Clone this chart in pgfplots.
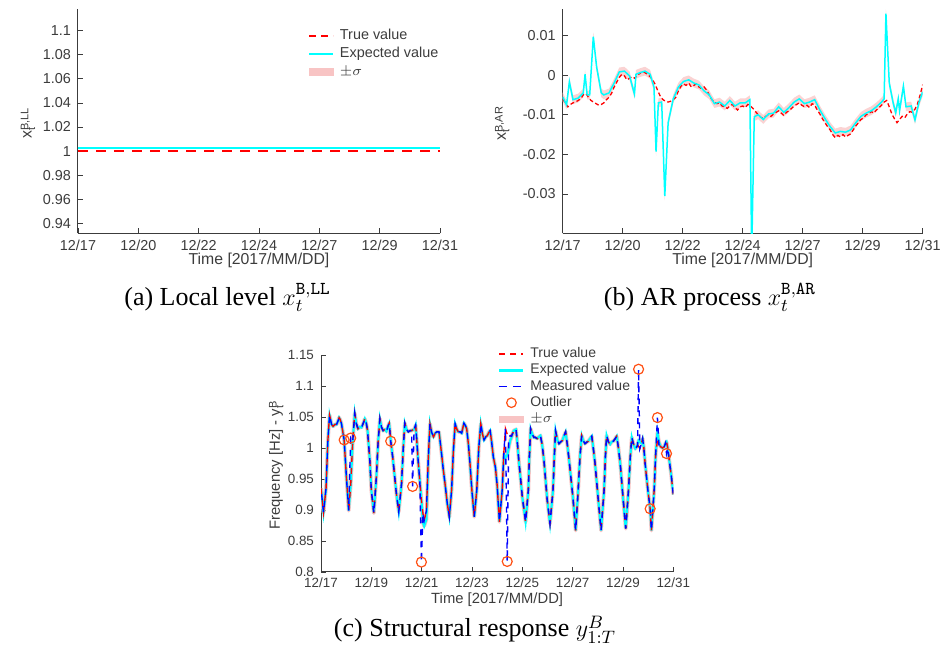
\documentclass[border=0pt]{standalone}
\usepackage{pgfplots}
\pgfplotsset{compat=1.18}
\usepackage{pgfplotstable}
\usepackage{fontspec}
\setmainfont{Liberation Sans}
\newfontfamily\capfont{Liberation Serif}

\definecolor{axgray}{RGB}{60,60,60}
\definecolor{cyanE}{RGB}{0,255,255}
\definecolor{bandpink}{RGB}{248,196,196}
\definecolor{outl}{RGB}{255,80,20}
\definecolor{redT}{RGB}{255,0,0}

% ---------- data ----------
\pgfplotstableread{
d t
0.0 -0.0060
0.1 -0.0070
0.2 -0.0080
0.3 -0.0074
0.4 -0.0070
0.5 -0.0068
0.6 -0.0064
0.7 -0.0060
0.8 -0.0050
0.9 -0.0046
1.0 -0.0056
1.1 -0.0064
1.2 -0.0068
1.3 -0.0072
1.4 -0.0076
1.5 -0.0074
1.6 -0.0070
1.7 -0.0062
1.8 -0.0056
1.9 -0.0046
2.0 -0.0030
2.1 -0.0018
2.2 -0.0006
2.3 0.0002
2.4 -0.0002
2.5 -0.0012
2.6 -0.0008
2.7 -0.0004
2.8 -0.0008
2.9 0.0000
3.0 0.0004
3.1 0.0010
3.2 0.0006
3.3 0.0002
3.4 -0.0004
3.5 -0.0012
3.6 -0.0024
3.7 -0.0040
3.8 -0.0054
3.9 -0.0062
4.0 -0.0066
4.1 -0.0068
4.2 -0.0066
4.3 -0.0062
4.4 -0.0056
4.5 -0.0040
4.6 -0.0028
4.7 -0.0022
4.8 -0.0026
4.9 -0.0020
5.0 -0.0030
5.1 -0.0026
5.2 -0.0022
5.3 -0.0030
5.4 -0.0034
5.5 -0.0030
5.6 -0.0038
5.7 -0.0050
5.8 -0.0062
5.9 -0.0068
6.0 -0.0072
6.1 -0.0070
6.2 -0.0078
6.3 -0.0080
6.4 -0.0084
6.5 -0.0078
6.6 -0.0074
6.7 -0.0082
6.8 -0.0088
6.9 -0.0080
7.0 -0.0078
7.1 -0.0082
7.2 -0.0074
7.3 -0.0078
7.4 -0.0084
7.5 -0.0092
7.6 -0.0100
7.7 -0.0106
7.8 -0.0110
7.9 -0.0104
8.0 -0.0100
8.1 -0.0104
8.2 -0.0098
8.3 -0.0094
8.4 -0.0090
8.5 -0.0096
8.6 -0.0102
8.7 -0.0094
8.8 -0.0090
8.9 -0.0084
9.0 -0.0078
9.1 -0.0074
9.2 -0.0070
9.3 -0.0076
9.4 -0.0080
9.5 -0.0076
9.6 -0.0082
9.7 -0.0072
9.8 -0.0076
9.9 -0.0088
10.0 -0.0098
10.1 -0.0110
10.2 -0.0120
10.3 -0.0130
10.4 -0.0138
10.5 -0.0150
10.6 -0.0158
10.7 -0.0152
10.8 -0.0156
10.9 -0.0150
11.0 -0.0156
11.1 -0.0152
11.2 -0.0148
11.3 -0.0138
11.4 -0.0128
11.5 -0.0120
11.6 -0.0112
11.7 -0.0108
11.8 -0.0100
11.9 -0.0098
12.0 -0.0092
12.1 -0.0096
12.2 -0.0088
12.3 -0.0082
12.4 -0.0076
12.5 -0.0068
12.6 -0.0064
12.7 -0.0080
12.8 -0.0098
12.9 -0.0110
13.0 -0.0120
13.1 -0.0112
13.2 -0.0104
13.3 -0.0108
13.4 -0.0098
13.5 -0.0092
13.6 -0.0094
13.7 -0.0086
13.8 -0.0072
13.9 -0.0050
14.0 -0.0024
}\artrue

\pgfplotstableread{
d e
0.00 -0.0055
0.15 -0.0075
0.26 -0.0017
0.40 -0.0062
0.60 -0.0058
0.80 -0.0045
0.87 0.0002
0.95 -0.0050
1.05 -0.0050
1.19 0.0097
1.32 0.0020
1.50 -0.0045
1.60 -0.0050
1.80 -0.0045
2.00 -0.0020
2.20 0.0008
2.40 0.0010
2.60 -0.0002
2.79 -0.0048
2.85 0.0002
3.00 0.0006
3.20 0.0010
3.40 0.0002
3.55 -0.0030
3.63 -0.0193
3.72 -0.0070
3.85 -0.0068
3.97 -0.0305
4.10 -0.0120
4.30 -0.0060
4.50 -0.0030
4.70 -0.0016
4.90 -0.0012
5.10 -0.0020
5.30 -0.0025
5.50 -0.0040
5.70 -0.0050
5.90 -0.0072
6.10 -0.0068
6.30 -0.0078
6.50 -0.0064
6.70 -0.0078
6.90 -0.0070
7.10 -0.0070
7.28 -0.0062
7.35 -0.0450
7.45 -0.0105
7.60 -0.0100
7.80 -0.0112
8.00 -0.0098
8.20 -0.0096
8.40 -0.0080
8.60 -0.0094
8.80 -0.0082
9.00 -0.0068
9.20 -0.0060
9.40 -0.0072
9.60 -0.0068
9.80 -0.0062
10.00 -0.0088
10.20 -0.0110
10.40 -0.0130
10.60 -0.0146
10.80 -0.0142
11.00 -0.0144
11.20 -0.0138
11.40 -0.0120
11.60 -0.0104
11.80 -0.0096
12.00 -0.0090
12.20 -0.0080
12.40 -0.0068
12.50 -0.0060
12.57 0.0155
12.70 -0.0020
12.85 -0.0070
12.95 -0.0095
13.05 -0.0060
13.10 -0.0090
13.25 -0.0028
13.35 -0.0080
13.55 -0.0078
13.70 -0.0113
13.85 -0.0070
14.00 -0.0042
}\arexp

\pgfplotstableread{
d t e m
0.00 0.935 0.935 0.935
0.10 0.896 0.896 0.896
0.20 0.935 0.935 0.935
0.27 1.010 1.010 1.010
0.34 1.053 1.053 1.053
0.42 1.038 1.038 1.038
0.48 1.035 1.035 1.035
0.55 1.038 1.038 1.038
0.62 1.038 1.038 1.038
0.68 1.044 1.044 1.044
0.72 1.049 1.049 1.049
0.76 1.046 1.046 1.046
0.81 1.040 1.040 1.040
0.86 1.028 1.028 1.028
0.92 1.012 1.012 1.013
1.01 0.953 0.953 0.953
1.10 0.899 0.899 0.899
1.18 0.940 0.940 1.016
1.26 1.010 1.010 1.010
1.34 1.056 1.056 1.056
1.40 1.040 1.040 1.040
1.47 1.031 1.031 1.031
1.54 1.034 1.034 1.034
1.61 1.033 1.033 1.033
1.68 1.040 1.040 1.040
1.74 1.047 1.047 1.047
1.80 1.040 1.040 1.040
1.85 1.028 1.028 1.028
1.94 0.980 0.980 0.980
2.00 0.932 0.932 0.932
2.10 0.895 0.895 0.895
2.20 0.953 0.953 0.953
2.27 1.010 1.010 1.010
2.34 1.047 1.047 1.047
2.40 1.034 1.034 1.034
2.47 1.028 1.028 1.028
2.54 1.030 1.030 1.030
2.60 1.027 1.027 1.027
2.66 1.035 1.035 1.035
2.71 1.040 1.040 1.040
2.77 1.012 1.012 1.011
2.85 0.985 0.985 0.985
2.93 0.953 0.953 0.953
3.00 0.925 0.925 0.925
3.09 0.897 0.897 0.897
3.20 0.942 0.942 0.942
3.27 1.000 1.000 1.000
3.33 1.040 1.040 1.040
3.40 1.030 1.030 1.030
3.47 1.026 1.026 1.026
3.54 1.028 1.028 1.028
3.60 1.028 1.028 1.028
3.64 1.029 1.029 0.938
3.70 1.030 1.030 1.030
3.76 1.037 1.037 1.037
3.81 1.010 1.010 1.010
3.86 0.980 0.980 0.980
3.93 0.945 0.945 0.945
3.99 0.916 0.916 0.816
4.05 0.895 0.880 0.895
4.10 0.883 0.874 0.883
4.19 0.899 0.885 0.899
4.26 0.980 0.975 0.980
4.33 1.039 1.039 1.039
4.40 1.025 1.025 1.025
4.47 1.018 1.018 1.018
4.54 1.024 1.024 1.024
4.60 1.026 1.026 1.026
4.69 1.026 1.026 1.026
4.79 0.991 0.991 0.991
4.86 0.965 0.965 0.965
4.93 0.942 0.942 0.942
5.02 0.910 0.910 0.910
5.10 0.889 0.889 0.889
5.19 0.932 0.932 0.932
5.26 0.995 0.995 0.995
5.33 1.039 1.039 1.039
5.40 1.030 1.030 1.030
5.46 1.026 1.026 1.026
5.53 1.026 1.026 1.026
5.59 1.024 1.024 1.024
5.68 1.040 1.040 1.040
5.74 1.036 1.036 1.036
5.79 1.031 1.031 1.031
5.86 1.005 1.005 1.005
5.92 0.975 0.975 0.975
6.00 0.930 0.930 0.930
6.09 0.889 0.889 0.889
6.19 0.932 0.932 0.932
6.27 1.000 1.000 1.000
6.35 1.039 1.039 1.039
6.42 1.022 1.022 1.022
6.48 1.013 1.013 1.013
6.55 1.018 1.018 1.018
6.61 1.020 1.020 1.020
6.67 1.025 1.025 1.025
6.72 1.028 1.028 1.028
6.78 1.010 1.010 1.010
6.85 0.985 0.985 0.985
6.93 0.969 0.969 0.969
7.00 0.940 0.940 0.940
7.09 0.881 0.881 0.881
7.20 0.932 0.932 0.932
7.27 0.995 0.990 0.995
7.33 1.031 0.985 1.031
7.40 1.022 0.988 0.817
7.46 1.017 1.000 1.017
7.52 1.020 1.012 1.020
7.57 1.019 1.017 1.019
7.62 1.024 1.024 1.024
7.66 1.028 1.028 1.028
7.75 1.030 1.030 1.030
7.80 1.010 1.010 1.010
7.86 0.980 0.980 0.980
8.00 0.921 0.921 0.921
8.13 0.881 0.881 0.881
8.24 0.932 0.932 0.932
8.28 0.985 0.985 0.985
8.33 1.031 1.031 1.031
8.40 1.022 1.022 1.022
8.46 1.017 1.017 1.017
8.52 1.017 1.017 1.017
8.59 1.015 1.015 1.015
8.66 1.018 1.018 1.018
8.72 1.020 1.020 1.020
8.79 1.005 1.005 1.005
8.86 0.980 0.980 0.980
8.99 0.916 0.916 0.916
9.10 0.878 0.878 0.878
9.22 0.932 0.932 0.932
9.27 0.985 0.985 0.985
9.32 1.028 1.028 1.028
9.40 1.012 1.012 1.012
9.46 1.007 1.007 1.007
9.53 1.010 1.010 1.010
9.59 1.012 1.012 1.012
9.66 1.020 1.020 1.020
9.72 1.026 1.026 1.026
9.79 1.005 1.005 1.005
9.86 0.980 0.980 0.980
10.01 0.921 0.921 0.921
10.12 0.867 0.867 0.867
10.22 0.932 0.932 0.932
10.29 0.985 0.985 0.985
10.36 1.020 1.020 1.020
10.42 1.012 1.012 1.012
10.49 1.007 1.007 1.007
10.55 1.009 1.009 1.009
10.62 1.011 1.011 1.011
10.69 1.015 1.015 1.015
10.76 1.019 1.019 1.019
10.82 1.000 1.000 1.000
10.89 0.975 0.975 0.975
11.02 0.916 0.916 0.916
11.13 0.867 0.867 0.867
11.25 0.932 0.932 0.932
11.30 0.985 0.985 0.985
11.35 1.020 1.020 1.020
11.42 1.010 1.010 1.010
11.49 1.006 1.006 1.006
11.55 1.010 1.010 1.010
11.62 1.011 1.011 1.011
11.69 1.015 1.015 1.015
11.75 1.019 1.019 1.019
11.82 1.000 1.000 1.000
11.89 0.975 0.975 0.975
12.01 0.916 0.916 0.916
12.11 0.870 0.870 0.870
12.22 0.932 0.932 0.932
12.29 0.985 0.985 0.985
12.35 1.017 1.017 1.017
12.42 1.006 1.006 1.006
12.49 0.999 0.999 0.999
12.55 1.002 1.002 1.002
12.58 1.004 1.006 1.004
12.62 1.003 1.012 1.127
12.67 0.999 1.010 0.999
12.72 1.005 1.008 1.005
12.78 1.015 1.015 1.015
12.83 1.000 1.000 1.000
12.88 0.975 0.975 0.975
12.99 0.932 0.932 0.932
13.08 0.902 0.902 0.902
13.13 0.867 0.867 0.867
13.24 0.932 0.932 0.932
13.30 0.990 0.990 0.990
13.37 1.012 1.025 1.049
13.43 1.005 1.010 1.005
13.50 1.002 1.002 1.002
13.57 1.000 1.000 1.000
13.64 1.002 1.002 1.002
13.69 1.008 1.008 1.008
13.73 1.010 1.010 0.991
13.78 1.000 1.000 1.000
13.84 0.980 0.980 0.980
13.92 0.955 0.955 0.955
14.00 0.925 0.925 0.925
}\resp

\pgfplotstableread{
d v
0.92 1.013
1.18 1.016
2.77 1.011
3.64 0.938
3.99 0.816
7.40 0.817
12.62 1.127
13.08 0.902
13.37 1.049
13.73 0.991
}\outliers

\pgfplotsset{
  mystyle/.style={
    scale only axis,
    axis x line*=bottom, axis y line*=left,
    axis line style={axgray, line width=0.5pt},
    every tick/.style={axgray, line width=0.4pt},
    tick align=inside,
    major tick length=2.5pt,
    ticklabel style={text=axgray},
    label style={text=axgray},
    scaled ticks=false,
    yticklabel style={/pgf/number format/fixed, /pgf/number format/precision=3},
    /pgf/number format/assume math mode=true,
  },
}

\newcommand{\fsTA}{\fontsize{7.2}{8.6}\selectfont}
\newcommand{\fsLA}{\fontsize{7.9}{9.5}\selectfont}
\newcommand{\fsGA}{\fontsize{7.2}{8.6}\selectfont}
\newcommand{\fsTB}{\fontsize{6.7}{8}\selectfont}
\newcommand{\fsLB}{\fontsize{7.4}{8.9}\selectfont}
\newcommand{\fsGB}{\fontsize{7.0}{8.4}\selectfont}
\newcommand{\scr}{\fontsize{5.5}{6}\selectfont}
\newcommand{\mylab}[3]{#1\rlap{\lower1.8pt\hbox{\scr #2}}\raise1.6pt\hbox{\scr #3}}

\begin{document}
\begin{tikzpicture}
\path[use as bounding box] (0pt,0pt) rectangle (471.5pt,328pt);

% ---------------- (a) local level ----------------
\begin{axis}[mystyle,
  at={(39pt,211.35pt)}, anchor=south west,
  width=181pt, height=112pt,
  xmin=0, xmax=14, ymin=0.9317, ymax=1.1178,
  xtick={0,2.33333,4.66667,7,9.33333,11.66667,14},
  xticklabels={12/17,12/20,12/22,12/24,12/27,12/29,12/31},
  ytick={0.94,0.96,0.98,1,1.02,1.04,1.06,1.08,1.1},
  tick label style={font=\fsTA},
  label style={font=\fsLA},
  xlabel={Time [2017/MM/DD]},
  xlabel style={at={(axis description cs:0.5,-0.121)}, anchor=center},
  ylabel={\mylab{x}{t}{B,LL}},
  ylabel style={at={(axis description cs:-0.138,0.49)}, anchor=center},
  legend style={draw=none, fill=none, text=axgray, font=\fsGA, inner sep=0pt,
    at={(axis description cs:0.635,0.918)}, anchor=north west,
    row sep=1.2pt, column sep=2.5pt,
    nodes={text height=5.3pt, text depth=1.5pt, inner sep=0.5pt},
    cells={anchor=west}},
]
\addlegendimage{legend image code/.code={\draw[redT, line width=0.85pt, dash pattern=on 3.5pt off 2.5pt] (0pt,0pt) -- (12pt,0pt);}}
\addlegendentry{True value}
\addlegendimage{legend image code/.code={\draw[cyanE, line width=0.7pt] (0pt,0pt) -- (12pt,0pt);}}
\addlegendentry{Expected value}
\addlegendimage{legend image code/.code={\fill[bandpink] (0pt,-1.6pt) rectangle (12pt,1.6pt);}}
\addlegendentry{$\pm\sigma$}
\addplot[bandpink, line width=1.4pt, forget plot] coordinates {(0,1.0025) (14,1.0025)};
\addplot[cyanE, line width=1pt, forget plot] coordinates {(0,1.0025) (14,1.0025)};
\addplot[redT, line width=0.8pt, dash pattern=on 5pt off 4pt, forget plot] coordinates {(0,1.0) (14,1.0)};
\end{axis}

% ---------------- (b) AR process ----------------
\begin{axis}[mystyle,
  at={(281.35pt,211.35pt)}, anchor=south west,
  width=180pt, height=112pt,
  xmin=0, xmax=14, ymin=-0.0399, ymax=0.0166,
  xtick={0,2.33333,4.66667,7,9.33333,11.66667,14},
  xticklabels={12/17,12/20,12/22,12/24,12/27,12/29,12/31},
  ytick={-0.03,-0.02,-0.01,0,0.01},
  tick label style={font=\fsTA},
  label style={font=\fsLA},
  xlabel={Time [2017/MM/DD]},
  xlabel style={at={(axis description cs:0.5,-0.121)}, anchor=center},
  ylabel={\mylab{x}{t}{B,AR}},
  ylabel style={at={(axis description cs:-0.168,0.49)}, anchor=center},
]
\addplot[draw=none, stack plots=y, forget plot] table[x=d, y expr=\thisrow{e}-0.0011] {\arexp};
\addplot[draw=none, fill=bandpink!75!white, stack plots=y, forget plot] table[x=d, y expr=0.0022] {\arexp} \closedcycle;
\addplot[redT, line width=0.65pt, dash pattern=on 2pt off 1.3pt, forget plot] table[x=d, y=t] {\artrue};
\addplot[cyanE, line width=0.75pt, forget plot] table[x=d, y=e] {\arexp};
\end{axis}

% ---------------- (c) structural response ----------------
\begin{axis}[mystyle,
  at={(160.5pt,42pt)}, anchor=south west,
  width=176.15pt, height=108.5pt,
  xmin=0, xmax=14, ymin=0.8, ymax=1.15,
  xtick={0,2,4,6,8,10,12,14},
  xticklabels={12/17,12/19,12/21,12/23,12/25,12/27,12/29,12/31},
  ytick={0.8,0.85,0.9,0.95,1,1.05,1.1,1.15},
  tick label style={font=\fsTB},
  xticklabel style={yshift=0.5pt},
  label style={font=\fsLB},
  xlabel={Time [2017/MM/DD]},
  xlabel style={at={(axis description cs:0.5,-0.126)}, anchor=center},
  ylabel={Frequency [Hz] - \mylab{y}{t}{B}},
  ylabel style={at={(axis description cs:-0.127,0.49)}, anchor=center},
  legend style={draw=none, fill=none, text=axgray, font=\fsGB, inner sep=0pt,
    at={(axis description cs:0.502,1.040)}, anchor=north west,
    row sep=0.7pt, column sep=2.5pt,
    nodes={text height=5.1pt, text depth=1.5pt, inner sep=0.4pt},
    cells={anchor=west}},
]
\addlegendimage{legend image code/.code={\draw[redT, line width=0.7pt, dash pattern=on 3pt off 2.5pt] (0pt,0pt) -- (12pt,0pt);}}
\addlegendentry{True value}
\addlegendimage{legend image code/.code={\draw[cyanE, line width=1.2pt] (0pt,0pt) -- (12pt,0pt);}}
\addlegendentry{Expected value}
\addlegendimage{legend image code/.code={\draw[blue, line width=0.7pt, dash pattern=on 4pt off 3pt] (0pt,0pt) -- (12pt,0pt);}}
\addlegendentry{Measured value}
\addlegendimage{legend image code/.code={\draw[outl, line width=0.6pt] (6pt,0pt) circle (2.4pt);}}
\addlegendentry{Outlier}
\addlegendimage{legend image code/.code={\fill[bandpink] (0pt,-1.5pt) rectangle (12pt,1.5pt);}}
\addlegendentry{$\pm\sigma$}
\addplot[bandpink, line width=1.9pt, line join=round, forget plot] table[x=d, y=e] {\resp};
\addplot[cyanE, line width=1.1pt, forget plot] table[x=d, y=e] {\resp};
\addplot[redT, line width=0.7pt, dash pattern=on 3pt off 3pt, forget plot] table[x=d, y=t] {\resp};
\addplot[blue, line width=0.7pt, dash pattern=on 3pt off 3pt, dash phase=3pt, forget plot] table[x=d, y=m] {\resp};
\addplot[only marks, mark=o, mark size=2.5pt, outl, mark options={line width=0.6pt}, forget plot] table[x=d, y=v] {\outliers};
\end{axis}

% ---------------- captions ----------------
\node[font=\capfont\fontsize{13}{15}\selectfont, anchor=base] at (113.75pt,175pt) {(a) Local level $x_t^{\mathtt{B,LL}}$};
\node[font=\capfont\fontsize{13}{15}\selectfont, anchor=base] at (355pt,175pt) {(b) AR process $x_t^{\mathtt{B,AR}}$};
\node[font=\capfont\fontsize{13}{15}\selectfont, anchor=base] at (237.5pt,9.5pt) {(c) Structural response $y_{1:T}^{B}$};
\end{tikzpicture}
\end{document}
